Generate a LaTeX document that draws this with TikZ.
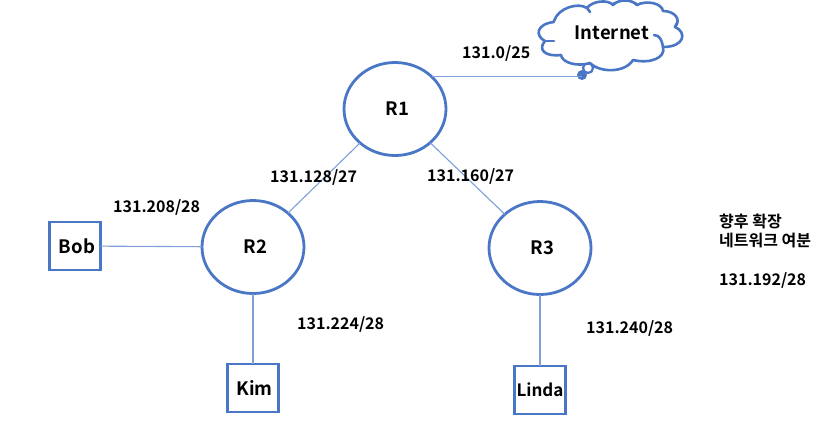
\documentclass[tikz,border=0pt]{standalone}
\usepackage{fontspec}
\setmainfont{Noto Sans CJK KR Bold}
\usetikzlibrary{shapes.geometric}
\definecolor{netblue}{HTML}{4A76C6}
\definecolor{linkblue}{HTML}{7F9FD8}
\tikzset{
  router/.style={draw=netblue,line width=2.8pt,ellipse,minimum width=102pt,minimum height=93pt,inner sep=0pt,outer sep=0pt,font=\fontsize{18.5}{22}\selectfont},
  host/.style={draw=netblue,line width=2.8pt,minimum width=51pt,minimum height=48pt,inner sep=0pt,outer sep=0pt,font=\fontsize{18.5}{22}\selectfont},
  link/.style={draw=linkblue,line width=1.1pt},
  cloudline/.style={draw=netblue,line width=2.6pt,line join=round,line cap=round},
  lab/.style={font=\fontsize{16}{20}\selectfont,inner sep=0pt,anchor=west}
}
\begin{document}
\begin{tikzpicture}[x=1pt,y=-1pt]
\useasboundingbox (0,0) rectangle (829,424);
\node[router] (R1) at (395,109) {\hspace{5pt}R1};
\node[router] (R2) at (253,247) {\hspace{5pt}R2};
\node[router] (R3) at (540,248) {\hspace{5pt}R3};
\node[host] (Bob) at (75,246) {\hspace{4pt}Bob};
\node[host] (Kim) at (253,388) {\hspace{3pt}Kim};
\node[host,font=\fontsize{17}{20}\selectfont] (Linda) at (540,390) {Linda};
% cloud
\draw[netblue,line width=2.2pt] (588,68) circle (5pt);
\draw[cloudline,fill=white]
 (554,21) .. controls (558,8) and (578,2) .. (587,8)
 .. controls (592,1) and (608,-1) .. (613,5)
 .. controls (618,-1) and (632,-1) .. (637,5)
 .. controls (646,0) and (662,3) .. (663,11)
 .. controls (674,11) and (682,19) .. (675,27)
 .. controls (687,32) and (685,47) .. (663,47)
 .. controls (666,58) and (650,64) .. (633,60)
 .. controls (625,73) and (600,73) .. (590,63)
 .. controls (578,67) and (562,63) .. (561,55)
 .. controls (546,57) and (537,50) .. (545,41)
 .. controls (535,36) and (536,24) .. (554,22);
\draw[cloudline] (545,41) -- (554,41);
\draw[cloudline] (654,35) .. controls (660,35) and (662,41) .. (663,47);
\draw[cloudline] (675,27) -- (677,23);
\draw[cloudline] (587,8) -- (590,12);
\draw[cloudline] (613,5) -- (614,3);
\draw[cloudline] (637,5) -- (635,3);
\node[circle,fill=netblue,minimum size=10pt,inner sep=0pt] (tail) at (582,75) {};
\node[font=\fontsize{18.5}{22}\selectfont] (inet) at (612,33) {Internet};
% links
\draw[link] (R1.41) -- (R1.41 -| tail);
\draw[link] (R1) -- (R2);
\draw[link] (R1) -- (R3);
\draw[link] (Bob) -- (R2);
\draw[link] (R2) -- (Kim);
\draw[link] (R3) -- (Linda);
% labels
\node[lab] (l1) at (462,53) {131.0/25};
\node[lab] (l2) at (270,177) {131.128/27};
\node[lab] (l3) at (427,176) {131.160/27};
\node[lab] (l4) at (113,207) {131.208/28};
\node[lab] (l5) at (297,324) {131.224/28};
\node[lab] (l6) at (586,328) {131.240/28};
\node[lab] (k1) at (719,221) {향후 확장};
\node[lab] (k2) at (719,241) {네트워크 여분};
\node[lab] (l7) at (719,280) {131.192/28};
\end{tikzpicture}
\end{document}
